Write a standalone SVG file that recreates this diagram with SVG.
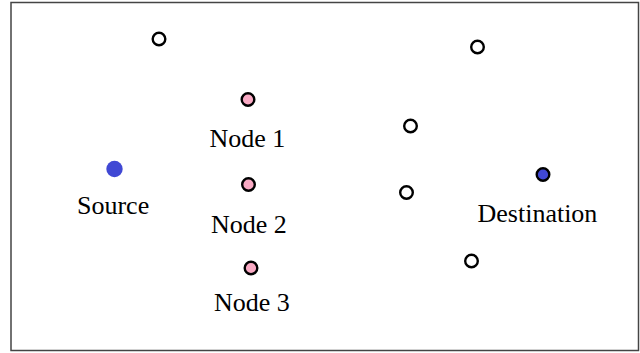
<svg xmlns="http://www.w3.org/2000/svg" width="640" height="353" viewBox="0 0 640 353">
  <style>
    .lbl { font-family: "Liberation Serif", "Times New Roman", serif; font-size: 26px; fill: #000; }
    .open { fill: #fff; stroke: #000; stroke-width: 2.4; }
    .relay { fill: #f9aac4; stroke: #000; stroke-width: 2.4; }
    .src { fill: #4048d4; }
    .dst { fill: #4048d4; stroke: #000; stroke-width: 2.4; }
  </style>
  <rect width="640" height="353" fill="#fff"/>
  <rect x="11" y="2.5" width="627.5" height="348" fill="none" stroke="#444" stroke-width="1.5"/>

  <g id="connectors"></g>

  <g id="source">
    <circle class="src" cx="114.5" cy="169" r="8.2"/>
    <text class="lbl" x="77" y="214">Source</text>
  </g>
  <g id="node1">
    <circle class="relay" cx="248" cy="99.5" r="6.3"/>
    <text class="lbl" x="209.5" y="147">Node 1</text>
  </g>
  <g id="node2">
    <circle class="relay" cx="248.5" cy="184.5" r="6.3"/>
    <text class="lbl" x="211" y="233">Node 2</text>
  </g>
  <g id="node3">
    <circle class="relay" cx="251" cy="268" r="6.3"/>
    <text class="lbl" x="214" y="311">Node 3</text>
  </g>
  <g id="destination">
    <circle class="dst" cx="543" cy="174.5" r="6.3"/>
    <text class="lbl" x="477.5" y="222">Destination</text>
  </g>
  <g id="n-a"><circle class="open" cx="159" cy="39" r="6.3"/></g>
  <g id="n-b"><circle class="open" cx="477.5" cy="47" r="6.3"/></g>
  <g id="n-c"><circle class="open" cx="410.5" cy="126" r="6.3"/></g>
  <g id="n-d"><circle class="open" cx="406.5" cy="192.5" r="6.3"/></g>
  <g id="n-e"><circle class="open" cx="471.5" cy="261" r="6.3"/></g>
</svg>
